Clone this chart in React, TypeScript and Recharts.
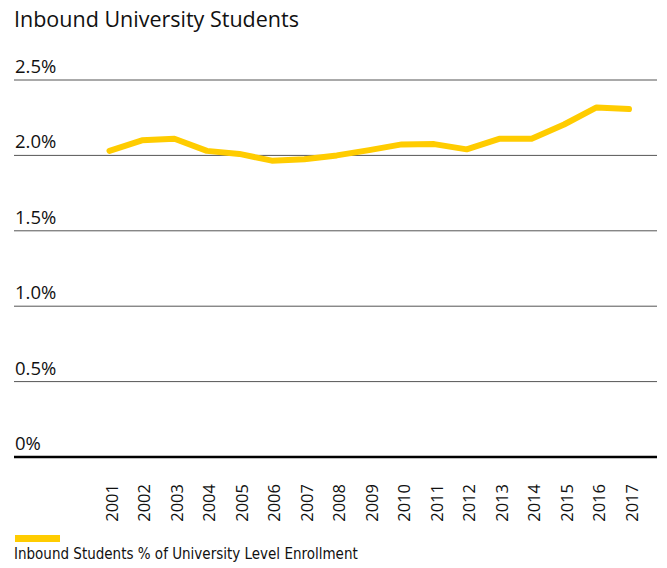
import React from "react";
import { LineChart, Line, XAxis, YAxis, CartesianGrid } from "recharts";

const years = ["2001","2002","2003","2004","2005","2006","2007","2008","2009","2010","2011","2012","2013","2014","2015","2016","2017"];
const inboundShare = [2.03, 2.10, 2.11, 2.03, 2.01, 1.965, 1.975, 2.0, 2.035, 2.073, 2.075, 2.04, 2.11, 2.11, 2.205, 2.318, 2.307];
const yTicks = [0, 0.5, 1, 1.5, 2, 2.5];
const yTickLabels = ["0%", "0.5%", "1.0%", "1.5%", "2.0%", "2.5%"];

const data = years.map((y, i) => ({ year: y, value: inboundShare[i] }));

const FONT = "'Open Sans', 'Noto Sans', sans-serif";

const YTick = (props: any) => {
  const { x, y, payload } = props;
  const idx = yTicks.indexOf(payload.value);
  return (
    <text x={x + 1} y={y - 7} textAnchor="start" fontFamily={FONT} fontSize={18.5} fill="#111">
      {yTickLabels[idx]}
    </text>
  );
};

const XTick = (props: any) => {
  const { x, y, payload } = props;
  const ax = x + 8.5;
  const ay = y + 19;
  return (
    <text
      x={ax}
      y={ay}
      textAnchor="end"
      transform={`rotate(-90 ${ax} ${ay})`}
      fontFamily={FONT}
      fontSize={16.5}
      fill="#111"
    >
      {payload.value}
    </text>
  );
};

export default function App() {
  return (
    <div style={{ position: "absolute", left: 0, top: 0, width: 667, height: 568, background: "#fff" }}>
      <div
        style={{
          position: "absolute",
          left: 14,
          top: 4,
          fontFamily: FONT,
          fontSize: 21.5,
          color: "#111",
          whiteSpace: "nowrap",
        }}
      >
        Inbound University Students
      </div>
      <LineChart
        width={667}
        height={568}
        data={data}
        margin={{ top: 80, right: 10, bottom: 0, left: 13 }}
        style={{ overflow: "visible" }}
      >
        <CartesianGrid horizontal vertical={false} stroke="#555" strokeWidth={1} />
        <XAxis
          dataKey="year"
          padding={{ left: 95.5, right: 28 }}
          axisLine={{ stroke: "#000", strokeWidth: 2.5 }}
          tickLine={false}
          tick={<XTick />}
          interval={0}
          height={111}
        />
        <YAxis
          domain={[0, 2.5]}
          ticks={yTicks}
          width={1}
          axisLine={false}
          tickLine={false}
          tickSize={0}
          tickMargin={0}
          tick={<YTick />}
          interval={0}
        />
        <Line
          type="linear"
          dataKey="value"
          stroke="#FFCC00"
          strokeWidth={6}
          strokeLinecap="round"
          strokeLinejoin="round"
          dot={false}
          isAnimationActive={false}
        />
      </LineChart>
      <div style={{ position: "absolute", left: 15, top: 535, width: 45, height: 7, background: "#FFCC00" }} />
      <div
        style={{
          position: "absolute",
          left: 14,
          top: 545,
          fontFamily: "'Liberation Sans Narrow', 'DejaVu Sans Condensed', sans-serif",
          fontSize: 15,
          color: "#111",
          whiteSpace: "nowrap",
        }}
      >
        Inbound Students % of University Level Enrollment
      </div>
    </div>
  );
}
